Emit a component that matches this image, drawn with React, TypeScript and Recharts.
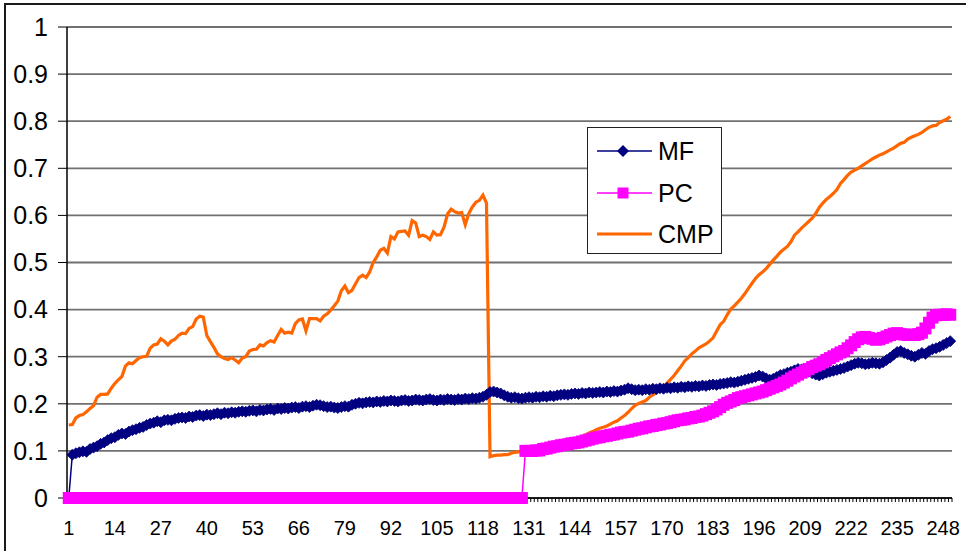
import React from 'react';
import { LineChart, Line, XAxis, YAxis, CartesianGrid } from 'recharts';

// categories 1..250 on the x axis
const categories = Array.from({ length: 250 }, (_, i) => i + 1);
const xTickLabels = [1, 14, 27, 40, 53, 66, 79, 92, 105, 118, 131, 144, 157, 170, 183, 196, 209, 222, 235, 248];
const yTicks = [0, 0.1, 0.2, 0.3, 0.4, 0.5, 0.6, 0.7, 0.8, 0.9, 1];

const mfValues = [
  0, 0.092, 0.095, 0.097, 0.099, 0.098, 0.104, 0.107, 0.11, 0.115,
  0.118, 0.123, 0.127, 0.129, 0.134, 0.137, 0.136, 0.141, 0.144, 0.146,
  0.149, 0.151, 0.155, 0.158, 0.16, 0.163, 0.161, 0.165, 0.166, 0.165,
  0.168, 0.17, 0.171, 0.17, 0.173, 0.172, 0.175, 0.176, 0.174, 0.177,
  0.176, 0.178, 0.18, 0.178, 0.181, 0.18, 0.182, 0.181, 0.183, 0.184,
  0.183, 0.185, 0.186, 0.184, 0.187, 0.186, 0.188, 0.189, 0.187, 0.19,
  0.189, 0.191, 0.19, 0.192, 0.193, 0.191, 0.194, 0.195, 0.193, 0.196,
  0.198, 0.197, 0.195, 0.193, 0.194, 0.192, 0.191, 0.193, 0.195, 0.194,
  0.198, 0.2, 0.202, 0.201, 0.203, 0.204, 0.203, 0.205, 0.204, 0.206,
  0.205, 0.207, 0.206, 0.205, 0.207, 0.208, 0.206, 0.207, 0.209, 0.208,
  0.207, 0.209, 0.21, 0.208, 0.207, 0.209, 0.208, 0.21, 0.209, 0.208,
  0.21, 0.209, 0.211, 0.21, 0.212, 0.211, 0.213, 0.215, 0.219, 0.225,
  0.226, 0.224, 0.222, 0.218, 0.215, 0.213, 0.214, 0.212, 0.211, 0.213,
  0.214, 0.213, 0.215, 0.214, 0.216, 0.215, 0.217, 0.216, 0.218, 0.219,
  0.22, 0.219, 0.221, 0.222, 0.221, 0.223, 0.222, 0.224, 0.223, 0.224,
  0.225, 0.224, 0.226, 0.225, 0.227, 0.226, 0.228, 0.23, 0.233, 0.231,
  0.229, 0.23, 0.229, 0.231, 0.23, 0.232, 0.231, 0.233, 0.232, 0.234,
  0.233, 0.235, 0.234, 0.236, 0.235, 0.237, 0.236, 0.238, 0.237, 0.239,
  0.238, 0.24, 0.241, 0.24, 0.242, 0.243, 0.244, 0.246, 0.245, 0.247,
  0.249, 0.251, 0.253, 0.255, 0.257, 0.26, 0.258, 0.254, 0.251, 0.253,
  0.257, 0.261, 0.263, 0.266, 0.268, 0.271, 0.274, 0.273, 0.27, 0.268,
  0.265, 0.262, 0.26, 0.263, 0.266, 0.268, 0.27, 0.272, 0.274, 0.276,
  0.279, 0.282, 0.285, 0.287, 0.286, 0.284, 0.285, 0.287, 0.286, 0.285,
  0.288, 0.293, 0.298, 0.304, 0.31, 0.312, 0.308, 0.305, 0.302, 0.3,
  0.304, 0.308, 0.306, 0.312, 0.316, 0.318, 0.321, 0.325, 0.329, 0.333,
];

const pcValues = [
  0, 0, 0, 0, 0, 0, 0, 0, 0, 0,
  0, 0, 0, 0, 0, 0, 0, 0, 0, 0,
  0, 0, 0, 0, 0, 0, 0, 0, 0, 0,
  0, 0, 0, 0, 0, 0, 0, 0, 0, 0,
  0, 0, 0, 0, 0, 0, 0, 0, 0, 0,
  0, 0, 0, 0, 0, 0, 0, 0, 0, 0,
  0, 0, 0, 0, 0, 0, 0, 0, 0, 0,
  0, 0, 0, 0, 0, 0, 0, 0, 0, 0,
  0, 0, 0, 0, 0, 0, 0, 0, 0, 0,
  0, 0, 0, 0, 0, 0, 0, 0, 0, 0,
  0, 0, 0, 0, 0, 0, 0, 0, 0, 0,
  0, 0, 0, 0, 0, 0, 0, 0, 0, 0,
  0, 0, 0, 0, 0, 0, 0, 0, 0, 0.1,
  0.1, 0.1, 0.101, 0.101, 0.104, 0.105, 0.107, 0.109, 0.11, 0.112,
  0.113, 0.114, 0.116, 0.117, 0.118, 0.12, 0.122, 0.124, 0.126, 0.128,
  0.129, 0.131, 0.132, 0.134, 0.135, 0.137, 0.139, 0.14, 0.141, 0.143,
  0.145, 0.147, 0.148, 0.15, 0.152, 0.153, 0.155, 0.156, 0.158, 0.159,
  0.161, 0.163, 0.165, 0.166, 0.167, 0.169, 0.17, 0.172, 0.173, 0.175,
  0.178, 0.181, 0.184, 0.188, 0.193, 0.198, 0.202, 0.205, 0.208, 0.212,
  0.214, 0.216, 0.218, 0.22, 0.222, 0.224, 0.226, 0.229, 0.232, 0.235,
  0.238, 0.241, 0.245, 0.249, 0.254, 0.258, 0.262, 0.266, 0.27, 0.274,
  0.278, 0.281, 0.284, 0.288, 0.293, 0.297, 0.301, 0.305, 0.309, 0.312,
  0.318, 0.324, 0.331, 0.337, 0.341, 0.342, 0.34, 0.338, 0.336, 0.337,
  0.34, 0.343, 0.346, 0.349, 0.35, 0.348, 0.347, 0.346, 0.347, 0.346,
  0.348, 0.351, 0.36, 0.372, 0.383, 0.388, 0.389, 0.389, 0.39, 0.389,
];

const cmpValues = [
  0.155, 0.156, 0.17, 0.175, 0.177, 0.183, 0.19, 0.196, 0.214, 0.22,
  0.22, 0.221, 0.233, 0.243, 0.251, 0.258, 0.28, 0.287, 0.285, 0.292,
  0.298, 0.3, 0.301, 0.318, 0.325, 0.327, 0.338, 0.333, 0.325, 0.333,
  0.337, 0.345, 0.35, 0.349, 0.36, 0.364, 0.38, 0.386, 0.384, 0.345,
  0.332, 0.32, 0.306, 0.3, 0.296, 0.294, 0.298, 0.293, 0.287, 0.297,
  0.3, 0.312, 0.315, 0.316, 0.325, 0.323, 0.33, 0.334, 0.331, 0.345,
  0.358, 0.35, 0.352, 0.35, 0.37, 0.378, 0.38, 0.355, 0.381, 0.381,
  0.381, 0.376, 0.386, 0.391, 0.399, 0.408, 0.418, 0.44, 0.45, 0.436,
  0.441, 0.455, 0.468, 0.473, 0.468, 0.48, 0.5, 0.512, 0.526, 0.53,
  0.52, 0.555, 0.55, 0.565, 0.566, 0.567, 0.558, 0.589, 0.584, 0.555,
  0.558, 0.555, 0.549, 0.565, 0.558, 0.559, 0.575, 0.603, 0.613, 0.608,
  0.605, 0.606, 0.58, 0.604, 0.618, 0.628, 0.632, 0.643, 0.626, 0.088,
  0.09, 0.091, 0.091, 0.092, 0.092, 0.095, 0.097, 0.098, 0.099, 0.1,
  0.101, 0.102, 0.104, 0.106, 0.108, 0.11, 0.112, 0.114, 0.116, 0.118,
  0.12, 0.122, 0.124, 0.126, 0.128, 0.131, 0.134, 0.138, 0.141, 0.145,
  0.148, 0.15, 0.153, 0.157, 0.161, 0.164, 0.17, 0.175, 0.182, 0.19,
  0.197, 0.201, 0.204, 0.207, 0.214, 0.219, 0.224, 0.229, 0.236, 0.244,
  0.252, 0.26, 0.27, 0.28, 0.291, 0.298, 0.306, 0.312, 0.319, 0.323,
  0.327, 0.333, 0.34, 0.354, 0.368, 0.375, 0.389, 0.401, 0.408, 0.416,
  0.424, 0.434, 0.445, 0.456, 0.466, 0.474, 0.48, 0.487, 0.496, 0.505,
  0.513, 0.522, 0.528, 0.534, 0.544, 0.558, 0.565, 0.573, 0.58, 0.587,
  0.594, 0.604, 0.617, 0.626, 0.634, 0.64, 0.647, 0.655, 0.668, 0.676,
  0.685, 0.692, 0.696, 0.7, 0.705, 0.71, 0.715, 0.72, 0.724, 0.728,
  0.731, 0.735, 0.739, 0.743, 0.748, 0.753, 0.755, 0.762, 0.766, 0.769,
  0.772, 0.776, 0.782, 0.787, 0.79, 0.791, 0.797, 0.801, 0.804, 0.81,
];

const MF_COLOR = '#000080';
const PC_COLOR = '#ff00ff';
const CMP_COLOR = '#ff6600';
const FONT = '"Liberation Sans", Arial, sans-serif';

const data = categories.map((c, i) => ({
  x: c,
  mf: mfValues[i],
  pc: pcValues[i],
  cmp: cmpValues[i],
}));

// tick marks sit on the category boundaries, labels in the middle
const boundaryTicks = [...categories.map((c) => c - 0.5), categories.length + 0.5];
const HALF_BAND = (952 - 67) / categories.length / 2;

function XTick(props: any) {
  const { x, y, payload } = props;
  const cat = payload.value + 0.5;
  if (!xTickLabels.includes(cat)) return <g />;
  return (
    <text x={x + HALF_BAND} y={y} dy="0.71em" textAnchor="middle" fontSize={20} fill="#000" fontFamily={FONT}>
      {cat}
    </text>
  );
}

function DiamondDot(props: any) {
  const { cx, cy, index } = props;
  if (cx == null || cy == null) return <g key={`mf-${index}`} />;
  const s = 5.5;
  return (
    <path
      key={`mf-${index}`}
      d={`M${cx},${cy - s}L${cx + s},${cy}L${cx},${cy + s}L${cx - s},${cy}Z`}
      fill={MF_COLOR}
      stroke={MF_COLOR}
      strokeWidth={0.8}
    />
  );
}

function SquareDot(props: any) {
  const { cx, cy, index } = props;
  if (cx == null || cy == null) return <g key={`pc-${index}`} />;
  const s = 6;
  return <rect key={`pc-${index}`} x={cx - s} y={cy - s} width={s * 2} height={s * 2} fill={PC_COLOR} />;
}

function LegendBox() {
  const rows = [
    { name: 'MF', color: MF_COLOR, width: 1.5, marker: 'diamond' },
    { name: 'PC', color: PC_COLOR, width: 1.5, marker: 'square' },
    { name: 'CMP', color: CMP_COLOR, width: 3, marker: 'none' },
  ];
  return (
    <div
      style={{
        position: 'absolute',
        left: 587,
        top: 127,
        width: 133,
        height: 125,
        border: '1px solid #222',
        background: '#fff',
        fontFamily: FONT,
      }}
    >
      {rows.map((r, i) => (
        <div key={r.name} style={{ position: 'absolute', left: 0, top: 3 + i * 41.5, height: 40, width: 133 }}>
          <svg width={60} height={40} style={{ position: 'absolute', left: 8, top: 0 }}>
            <line x1={1} y1={20} x2={56} y2={20} stroke={r.color} strokeWidth={r.width} />
            {r.marker === 'diamond' && <path d="M27,14L33,20L27,26L21,20Z" fill={r.color} />}
            {r.marker === 'square' && <rect x={21.5} y={14.5} width={11} height={11} fill={r.color} />}
          </svg>
          <span
            style={{
              position: 'absolute',
              left: 70,
              top: 20,
              transform: 'translateY(-50%)',
              fontSize: 25,
              lineHeight: '25px',
              color: '#000',
            }}
          >
            {r.name}
          </span>
        </div>
      ))}
    </div>
  );
}

export default function App() {
  return (
    <div
      style={{
        position: 'absolute',
        left: 0,
        top: 0,
        width: 966,
        height: 551,
        overflow: 'hidden',
        background: '#fff',
        fontFamily: FONT,
      }}
    >
      <div
        style={{
          position: 'absolute',
          left: 4,
          top: 3,
          width: 990,
          height: 580,
          border: '2px solid #1a1a1a',
        }}
      />
      <div style={{ position: 'absolute', left: 0, top: 0 }}>
        <LineChart width={966} height={551} data={data} margin={{ top: 27, right: 14, left: 0, bottom: 0 }}>
          <CartesianGrid vertical={false} stroke="#707070" strokeWidth={1.8} />
          <XAxis
            dataKey="x"
            type="number"
            domain={[0.5, categories.length + 0.5]}
            ticks={boundaryTicks}
            interval={0}
            height={53}
            tickSize={4}
            tickMargin={19}
            tick={XTick}
            axisLine={{ stroke: '#000', strokeWidth: 1.5 }}
            tickLine={{ stroke: '#000' }}
          />
          <YAxis
            domain={[0, 1]}
            ticks={yTicks}
            interval={0}
            width={67}
            tickSize={9}
            tickMargin={10}
            tick={{ fontSize: 25, fill: '#000', fontFamily: FONT }}
            axisLine={{ stroke: '#000', strokeWidth: 1.5 }}
            tickLine={{ stroke: '#000' }}
          />
          <YAxis
            yAxisId="right"
            orientation="right"
            domain={[0, 1]}
            width={0}
            tick={false}
            tickLine={false}
            axisLine={{ stroke: '#808080', strokeWidth: 1.5 }}
          />
          {/* lines first, markers on top, as in the original */}
          <Line type="linear" dataKey="mf" stroke={MF_COLOR} strokeWidth={1.5} dot={false} isAnimationActive={false} />
          <Line type="linear" dataKey="pc" stroke={PC_COLOR} strokeWidth={1.5} dot={false} isAnimationActive={false} />
          <Line type="linear" dataKey="cmp" stroke={CMP_COLOR} strokeWidth={3.2} dot={false} isAnimationActive={false} />
          <Line type="linear" dataKey="mf" stroke="none" dot={DiamondDot} activeDot={false} isAnimationActive={false} />
          <Line type="linear" dataKey="pc" stroke="none" dot={SquareDot} activeDot={false} isAnimationActive={false} />
        </LineChart>
      </div>
      <LegendBox />
    </div>
  );
}
